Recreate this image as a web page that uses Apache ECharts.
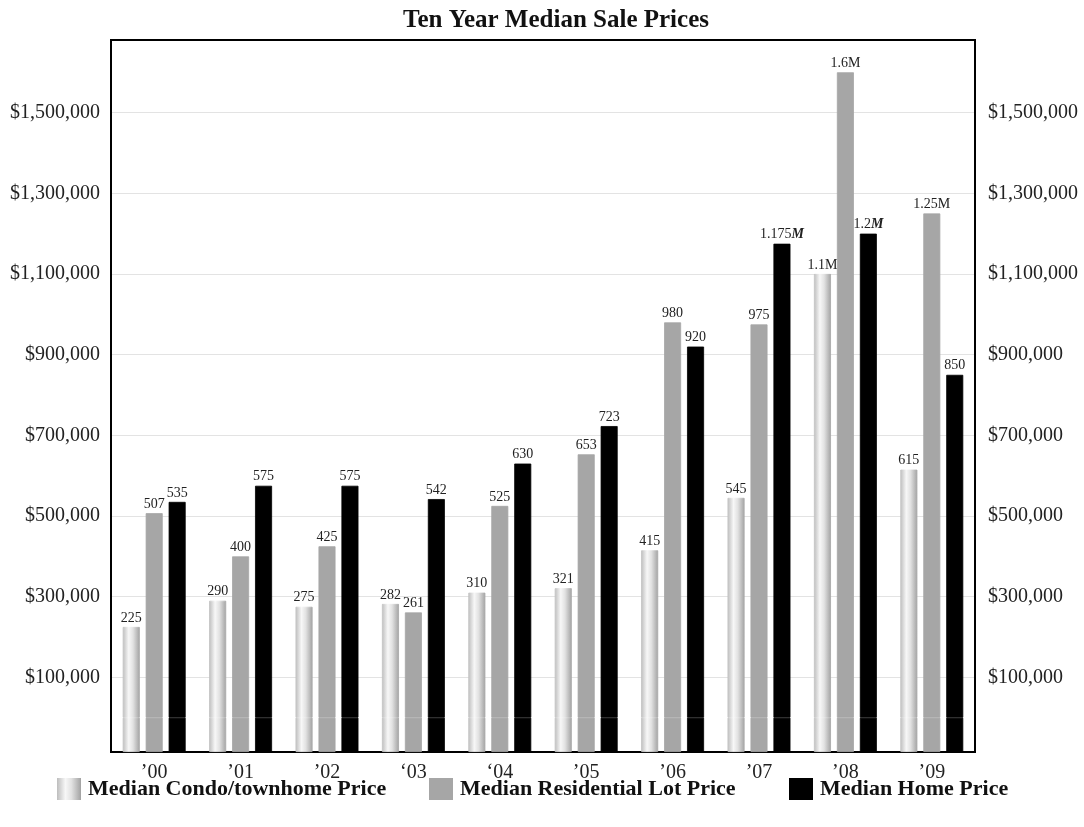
<!DOCTYPE html>
<html><head><meta charset="utf-8">
<script src="https://cdn.jsdelivr.net/npm/echarts@6/dist/echarts.min.js"></script>
<style>html,body{margin:0;padding:0;background:#fff}#c{width:1084px;height:827px}</style>
</head><body><div id="c"></div>
<script>
const categories = ["\u201900","\u201901","\u201902","\u201803","\u201804","\u201905","\u201906","\u201907","\u201908","\u201909"];
const condoValues = [225000, 290000, 275000, 282000, 310000, 321000, 415000, 545000, 1100000, 615000];
const lotValues   = [507000, 400000, 425000, 261000, 525000, 653000, 980000, 975000, 1600000, 1250000];
const homeValues  = [535000, 575000, 575000, 542000, 630000, 723000, 920000, 1175000, 1200000, 850000];
const tickValues  = [100000, 300000, 500000, 700000, 900000, 1100000, 1300000, 1500000];
const seriesNames = ["Median Condo/townhome Price", "Median Residential Lot Price", "Median Home Price"];
const AXIS_MIN = -85000, AXIS_MAX = 1680000;

const SERIF = "'Liberation Serif','Times New Roman',serif";
function fmt(v, italicM) {
  if (v >= 1e6) {
    const s = String(+(v / 1e6).toFixed(3));
    return italicM ? s + '{m|M}' : s + 'M';
  }
  return String(v / 1000);
}
const condoColor = {type:'linear', x:0, y:0, x2:1, y2:0, colorStops:[
  {offset:0, color:'#bdbdbd'}, {offset:0.35, color:'#f7f7f7'}, {offset:0.6, color:'#e2e2e2'}, {offset:1, color:'#a2a2a2'}]};
const colors = [condoColor, '#a6a6a6', '#000000'];
const valueSets = [condoValues, lotValues, homeValues];

const series = [];
valueSets.forEach((vals, i) => {
  const stack = 's' + i;
  const style = {color: colors[i], borderColor: colors[i], borderWidth: 0.8};
  series.push({
    name: '_base' + i, type: 'bar', stack, silent: true,
    data: categories.map(() => AXIS_MIN),
    barWidth: 17, barGap: '35%',
    itemStyle: style, label: {show: false}
  });
  series.push({
    name: seriesNames[i], type: 'bar', stack,
    data: vals, barWidth: 17, barGap: '35%',
    itemStyle: style,
    label: {
      show: true, position: 'top', distance: 2,
      fontFamily: SERIF, fontSize: 14, color: '#222',
      formatter: p => fmt(p.value, i === 2),
      rich: {m: {fontFamily: SERIF, fontSize: 14, fontStyle: 'italic', fontWeight: 'bold', color: '#222'}}
    }
  });
});

function yAxisDef(pos, margin, split) {
  return {
    type: 'value', min: AXIS_MIN, max: AXIS_MAX, position: pos,
    axisLine: {show: true, onZero: false, lineStyle: {color: '#000', width: 2}},
    axisTick: {show: false, customValues: tickValues},
    axisLabel: {customValues: tickValues, margin,
      formatter: v => '$' + Number(v).toLocaleString('en-US'),
      fontFamily: SERIF, fontSize: 20, color: '#222'},
    splitLine: {show: split, lineStyle: {color: '#e3e3e3', width: 1}}
  };
}

const legendBase = (name, left) => ({
  data: [name], left, top: 773, itemWidth: 22, itemHeight: 20, icon: 'rect',
  selectedMode: false,
  textStyle: {fontFamily: SERIF, fontSize: 22, fontWeight: 'bold', color: '#111', padding: [0,0,0,3]}
});

const chart = echarts.init(document.getElementById('c'), null, {renderer: 'canvas'});
chart.setOption({
  animation: false,
  backgroundColor: '#fff',
  title: {text: 'Ten Year Median Sale Prices', left: 551, top: 3, textAlign: 'center',
    textStyle: {fontFamily: SERIF, fontSize: 25, fontWeight: 'bold', color: '#111'}},
  grid: {left: 111, right: 109, top: 40, bottom: 75, show: true, borderColor: '#000', borderWidth: 2, containLabel: false},
  legend: [legendBase(seriesNames[0], 52), legendBase(seriesNames[1], 424), legendBase(seriesNames[2], 784)],
  xAxis: {type: 'category', data: categories,
    axisLine: {show: true, onZero: false, lineStyle: {color: '#000', width: 2}},
    axisTick: {show: false},
    axisLabel: {fontFamily: SERIF, fontSize: 20, color: '#222', margin: 11}},
  yAxis: [yAxisDef('left', 11, true), yAxisDef('right', 13, false)],
  series
});
</script></body></html>
